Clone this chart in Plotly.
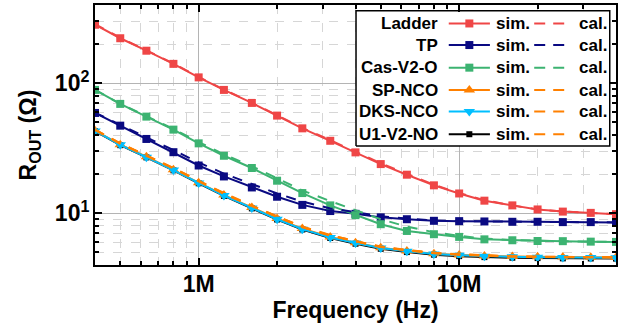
import math
import plotly.graph_objects as go

# ---------------- data ----------------
freqs = [4e5, 5e5, 6.3e5, 8e5, 1e6, 1.25e6, 1.6e6, 2e6, 2.5e6, 3.2e6, 4e6,
         5e6, 6.3e6, 8e6, 1e7, 1.25e7, 1.6e7, 2e7, 2.5e7, 3.2e7, 4e7]

ladder_sim = [282, 222, 178, 141, 111, 88.9, 70.6, 56.4, 45.0, 36.1, 29.4,
              23.9, 19.8, 16.4, 14.2, 12.5, 11.5, 10.7, 10.3, 10.07, 9.84]
ladder_cal = [285, 224, 179, 142, 112, 89.3, 71.0, 56.7, 45.4, 36.5, 29.8,
              24.3, 20.1, 16.6, 14.3, 12.6, 11.5, 10.7, 10.3, 10.05, 9.85]

tp_sim = [59.1, 47.2, 37.3, 29.5, 23.3, 19.2, 15.8, 13.4, 11.6, 10.4, 9.9,
          9.3, 9.0, 8.75, 8.7, 8.65, 8.6, 8.6, 8.55, 8.55, 8.5]
tp_cal = [59.5, 47.8, 38.3, 30.6, 24.6, 20.2, 16.7, 14.2, 12.3, 10.9, 10.2,
          9.5, 9.1, 8.8, 8.7, 8.65, 8.6, 8.6, 8.55, 8.55, 8.5]

cas_sim = [88.9, 69.4, 55.4, 44.0, 34.5, 27.7, 22.3, 17.8, 14.3, 11.5, 9.67,
           8.24, 7.31, 6.9, 6.58, 6.3, 6.2, 6.12, 6.1, 6.05, 6.02]
cas_cal = [89.0, 69.5, 55.8, 44.5, 35.3, 28.4, 23.0, 18.5, 15.0, 12.4, 10.5,
           9.0, 7.9, 7.15, 6.7, 6.4, 6.22, 6.13, 6.1, 6.05, 6.02]

sp_sim = [43.2, 33.7, 27.2, 21.6, 17.2, 13.8, 11.1, 9.1, 7.62, 6.58, 5.94,
          5.44, 5.13, 4.89, 4.78, 4.70, 4.65, 4.62, 4.60, 4.58, 4.57]
sp_cal = [44.0, 34.5, 27.9, 22.3, 17.8, 14.3, 11.5, 9.45, 7.9, 6.8, 6.1,
          5.55, 5.22, 4.97, 4.84, 4.74, 4.68, 4.64, 4.62, 4.60, 4.59]

dks_sim = [43.0, 33.6, 27.0, 21.5, 17.1, 13.7, 11.0, 9.0, 7.55, 6.52, 5.9,
           5.4, 5.1, 4.86, 4.75, 4.67, 4.62, 4.59, 4.57, 4.56, 4.55]
dks_cal = [43.9, 34.4, 27.8, 22.2, 17.7, 14.2, 11.4, 9.4, 7.85, 6.76, 6.07,
           5.52, 5.2, 4.95, 4.82, 4.72, 4.66, 4.62, 4.60, 4.59, 4.58]

u1_sim = [42.8, 33.4, 26.9, 21.4, 17.0, 13.6, 10.9, 8.95, 7.5, 6.45, 5.83,
          5.33, 5.03, 4.8, 4.68, 4.6, 4.55, 4.52, 4.5, 4.49, 4.48]
u1_cal = [43.8, 34.3, 27.7, 22.1, 17.6, 14.1, 11.35, 9.35, 7.8, 6.72, 6.04,
          5.5, 5.18, 4.93, 4.8, 4.7, 4.64, 4.61, 4.59, 4.58, 4.57]

names = ["Ladder", "TP", "Cas-V2-O", "SP-NCO", "DKS-NCO", "U1-V2-NO"]
x_ticks = [1e6, 1e7]
x_ticktext = ["1M", "10M"]
y_ticks = [10, 100]
y_ticktext = ["10<sup>1</sup>", "10<sup>2</sup>"]

# ---------------- styles ----------------
RED, NAVY, GREEN = "#EF4646", "#0A0A82", "#3CB371"
ORANGE, CYAN, BLACK = "#FF8000", "#00BFFF", "#000000"
FONT = "Liberation Sans, Arial, sans-serif"

series = [
    # name, color, symbol, size, sim, cal, cal color
    (names[0], RED, "square", 8, ladder_sim, ladder_cal, RED),
    (names[1], NAVY, "square", 8, tp_sim, tp_cal, NAVY),
    (names[2], GREEN, "square", 8, cas_sim, cas_cal, GREEN),
    (names[3], ORANGE, "triangle-up", 10, sp_sim, sp_cal, ORANGE),
    (names[4], CYAN, "triangle-down", 10, dks_sim, dks_cal, ORANGE),
    (names[5], BLACK, "square", 6, u1_sim, u1_cal, ORANGE),
]
draw_order = [0, 1, 2, 5, 3, 4]

fig = go.Figure()
DASH = "10px,9px"

for i in draw_order:
    nm, col, sym, sz, sim, cal, ccol = series[i]
    fig.add_trace(go.Scatter(x=freqs, y=sim, mode="lines+markers",
                             line=dict(color=col, width=2),
                             marker=dict(symbol=sym, size=sz, color=col),
                             showlegend=False, name=nm + " sim."))
for i in draw_order:
    nm, col, sym, sz, sim, cal, ccol = series[i]
    fig.add_trace(go.Scatter(x=freqs, y=cal, mode="lines",
                             line=dict(color=ccol, width=2, dash=DASH),
                             showlegend=False, name=nm + " cal."))

# ---------------- custom legend (overlay axes 0..1) ----------------
box_x0, box_x1, box_y0, box_y1 = 0.501, 0.988, 0.458, 0.978
row_y = [0.929, 0.846, 0.759, 0.673, 0.590, 0.503]
fig.add_trace(go.Scatter(x=[box_x0, box_x1, box_x1, box_x0, box_x0],
                         y=[box_y0, box_y0, box_y1, box_y1, box_y0],
                         mode="lines", fill="toself", fillcolor="white",
                         line=dict(color="black", width=1.5),
                         xaxis="x2", yaxis="y2", showlegend=False, hoverinfo="skip"))
annotations = []
for (nm, col, sym, sz, sim, cal, ccol), ry in zip(series, row_y):
    fig.add_trace(go.Scatter(x=[0.679, 0.758], y=[ry, ry], mode="lines",
                             line=dict(color=col, width=2),
                             xaxis="x2", yaxis="y2", showlegend=False, hoverinfo="skip"))
    fig.add_trace(go.Scatter(x=[0.7185], y=[ry], mode="markers",
                             marker=dict(symbol=sym, size=sz, color=col),
                             xaxis="x2", yaxis="y2", showlegend=False, hoverinfo="skip"))
    fig.add_trace(go.Scatter(x=[0.843, 0.902], y=[ry, ry], mode="lines",
                             line=dict(color=ccol, width=2, dash="11px,8px"),
                             xaxis="x2", yaxis="y2", showlegend=False, hoverinfo="skip"))
    for tx, txt, anc in [(0.662, nm, "right"), (0.765, "sim.", "left"), (0.926, "cal.", "left")]:
        annotations.append(dict(x=tx, y=ry, xref="paper", yref="paper", text=txt,
                                showarrow=False, xanchor=anc, yanchor="middle",
                                font=dict(family=FONT, size=17, color="black", weight="bold")))

axis_common = dict(showline=True, linecolor="black", linewidth=2, mirror="allticks",
                   ticks="inside", ticklen=7, tickwidth=2, tickcolor="black",
                   showgrid=True, gridcolor="#b4b4b4", gridwidth=1, zeroline=False,
                   automargin=False,
                   minor=dict(dtick="D1", ticks="inside", ticklen=4, tickwidth=1.5,
                              tickcolor="black", showgrid=True, gridcolor="#d6d6d6",
                              griddash="dash", gridwidth=1))

fig.update_layout(
    width=618, height=323,
    margin=dict(l=95, r=2, t=5, b=58),
    paper_bgcolor="white", plot_bgcolor="white",
    hovermode=False,
    xaxis=dict(type="log", range=[math.log10(4e5), math.log10(4e7)],
               tickmode="array", tickvals=x_ticks, ticktext=x_ticktext,
               tickfont=dict(family=FONT, size=23, color="black", weight="bold"),
               ticklabelstandoff=-3,
               title=dict(text="Frequency (Hz)", standoff=0,
                          font=dict(family=FONT, size=23, color="black", weight="bold")),
               **axis_common),
    yaxis=dict(type="log", range=[math.log10(4), math.log10(400)],
               tickmode="array", tickvals=y_ticks, ticktext=y_ticktext,
               tickfont=dict(family=FONT, size=23, color="black", weight="bold"),
               ticklabelstandoff=-1,
               title=dict(text="R<sub>OUT</sub> (\u03a9)", standoff=12,
                          font=dict(family=FONT, size=23, color="black", weight="bold")),
               **axis_common),
    xaxis2=dict(overlaying="x", range=[0, 1], visible=False, anchor="y2", fixedrange=True),
    yaxis2=dict(overlaying="y", range=[0, 1], visible=False, anchor="x2", fixedrange=True),
    annotations=annotations,
)

fig.write_html("out.html", config={"displayModeBar": False},
               post_script="document.body.style.margin='0';")
